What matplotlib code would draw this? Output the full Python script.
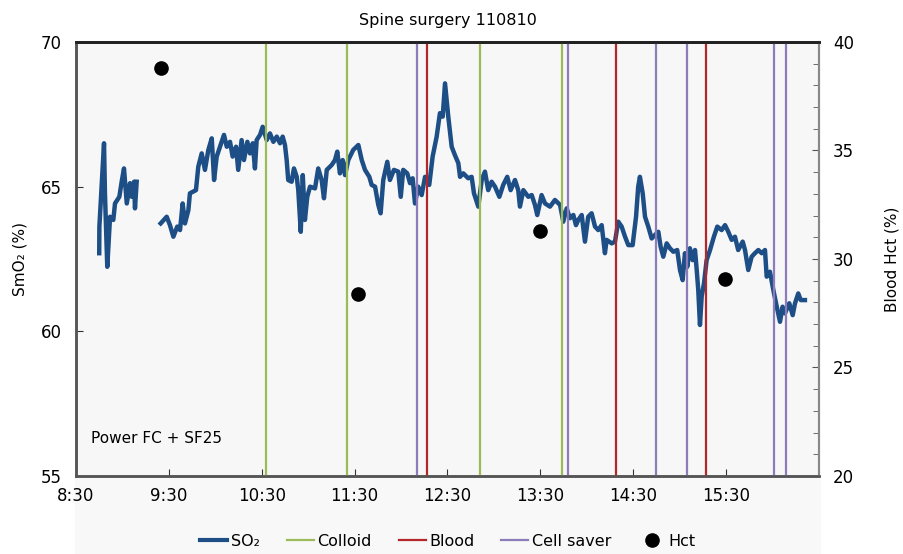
import matplotlib
matplotlib.use("Agg")
import matplotlib.pyplot as plt
from matplotlib.lines import Line2D
from matplotlib.patches import Rectangle
import numpy as np

# SmO2 trace, minutes after 8:30 and value (%), two recorded pieces
t1 = [15.0, 15.1, 18.1, 18.7, 20.2, 22.0, 24.1, 25.2, 28.0, 29.5,
      31.0, 32.8, 34.9, 36.0, 37.5, 38.1, 39.2]
v1 = [62.70, 63.62, 66.50, 64.78, 62.23, 63.96, 63.85, 64.42, 64.65, 65.17,
      65.63, 64.42, 65.12, 64.65, 65.17, 64.25, 65.17]

t2 = [54.7, 58.6, 60.7, 62.9, 65.4, 67.2, 68.9, 70.4, 72.6, 73.6,
      77.5, 79.0, 81.2, 83.3, 85.5, 87.7, 89.2, 90.9, 93.0, 95.6,
      97.4, 99.5, 101.2, 103.4, 104.8, 107.0, 108.5, 110.7, 112.4, 114.2,
      115.6, 116.7, 118.9, 120.6, 123.2, 125.3, 127.5, 129.7, 131.8, 133.5,
      135.0, 136.1, 137.1, 139.3, 140.8, 142.6, 143.6, 145.2, 146.5, 147.9,
      149.4, 151.2, 154.4, 156.5, 158.7, 160.2, 162.0, 165.2, 167.3, 168.8,
      170.5, 172.3, 173.8, 175.9, 179.1, 182.4, 184.6, 186.7, 189.5, 191.0,
      193.2, 195.3, 196.8, 198.5, 201.1, 202.8, 205.4, 208.2, 209.8, 211.4,
      214.0, 215.8, 217.5, 219.0, 221.1, 223.3, 225.5, 228.2, 230.4, 233.0,
      235.1, 236.9, 238.4, 240.5, 242.7, 244.8, 247.0, 248.1, 250.2, 253.4,
      255.6, 257.1, 259.9, 262.1, 264.2, 266.3, 268.5, 270.7, 273.5, 276.0,
      278.6, 280.8, 283.6, 285.7, 286.8, 289.0, 292.2, 294.4, 296.5, 298.0,
      300.8, 303.0, 306.2, 309.4, 312.7, 314.8, 317.0, 319.1, 321.3, 323.0,
      324.5, 326.7, 328.8, 330.9, 333.1, 335.3, 337.4, 339.6, 341.7, 342.8,
      346.1, 348.2, 350.3, 352.5, 354.7, 356.8, 359.6, 361.8, 363.2, 364.3,
      366.1, 367.6, 369.7, 371.9, 374.0, 376.2, 377.7, 379.4, 381.6, 383.7,
      385.9, 388.4, 390.2, 391.9, 393.4, 394.9, 396.6, 398.4, 399.9, 401.0,
      402.0, 403.1, 404.2, 405.7, 407.4, 409.6, 412.1, 414.3, 417.1, 419.3,
      421.4, 423.6, 425.7, 427.8, 430.7, 432.2, 434.3, 436.5, 438.6, 440.8,
      443.0, 445.1, 446.2, 448.3, 450.5, 452.7, 454.8, 456.5, 458.0, 460.8,
      463.0, 464.5, 466.6, 468.2, 470.9]
v2 = [63.73, 63.96, 63.67, 63.27, 63.62, 63.50, 64.42, 63.73, 64.19, 64.77,
      64.88, 65.69, 66.15, 65.58, 66.27, 66.67, 65.23, 66.04, 66.38, 66.79,
      66.38, 66.55, 66.04, 66.38, 65.58, 66.61, 65.92, 66.55, 66.15, 66.50,
      65.63, 66.61, 66.79, 67.07, 66.61, 66.84, 66.55, 66.73, 66.50, 66.73,
      66.44, 65.92, 65.23, 65.17, 65.63, 65.34, 64.88, 63.44, 65.40, 63.85,
      64.65, 65.00, 64.94, 65.63, 65.23, 64.60, 65.58, 65.75, 65.92, 66.21,
      65.46, 65.92, 65.40, 65.92, 66.27, 66.44, 65.92, 65.58, 65.34, 65.06,
      65.00, 64.37, 64.08, 65.23, 65.86, 65.23, 65.58, 65.52, 64.65, 65.58,
      65.46, 65.12, 65.29, 64.42, 65.00, 64.71, 65.34, 65.06, 66.04, 66.73,
      67.54, 67.42, 68.57, 67.42, 66.38, 66.09, 65.81, 65.34, 65.46, 65.29,
      65.34, 64.77, 64.31, 65.23, 65.52, 64.88, 65.17, 65.00, 64.65, 65.06,
      65.34, 64.88, 65.23, 64.88, 64.31, 64.88, 64.65, 64.71, 64.37, 64.02,
      64.71, 64.42, 64.31, 64.54, 64.37, 63.79, 64.25, 63.91, 64.02, 63.67,
      63.85, 64.02, 63.10, 63.96, 64.08, 63.62, 63.50, 63.67, 62.70, 63.16,
      63.04, 63.10, 63.79, 63.62, 63.27, 62.98, 62.98, 63.96, 65.00, 65.34,
      64.77, 63.96, 63.62, 63.21, 63.33, 63.44, 62.92, 62.58, 63.04, 62.87,
      62.75, 62.81, 62.12, 61.77, 62.70, 62.23, 62.87, 62.46, 62.81, 62.12,
      61.43, 60.22, 61.20, 61.66, 62.46, 62.81, 63.27, 63.62, 63.50, 63.67,
      63.44, 63.16, 63.27, 62.81, 63.10, 62.81, 62.12, 62.58, 62.70, 62.81,
      62.70, 62.81, 61.89, 62.06, 61.43, 60.85, 60.33, 60.85, 60.62, 60.97,
      60.56, 60.97, 61.31, 61.08, 61.08]

# event times (clock)
colloid = ["10:33", "11:25", "12:51", "13:44"]
blood = ["12:17", "14:19", "15:17"]
cell_saver = ["12:10", "13:48", "14:45", "15:05", "16:01", "16:09"]

# blood haematocrit samples
hct_time = ["9:25", "11:32", "13:30", "15:29"]
hct_val = [38.8, 28.4, 31.3, 29.1]

tick_labels = ["8:30", "9:30", "10:30", "11:30", "12:30", "13:30", "14:30", "15:30"]


def clock(s):
    h, m = s.split(":")
    return int(h) + int(m) / 60


def from_start(mins):
    return 8.5 + np.array(mins) / 60


c_so2 = "#1d4e86"
c_colloid = "#9bbb59"
c_blood = "#b3262a"
c_cell = "#8d7cba"

fig = plt.figure(figsize=(9.04, 5.54), dpi=100)
fig.patches.append(Rectangle((75 / 904, 0), 745 / 904, 78 / 554,
                             transform=fig.transFigure, color="#f8f8f8", zorder=-1))
ax = fig.add_axes([76 / 904, 78 / 554, 743 / 904, 434 / 554])
ax.set_facecolor("#f7f7f7")
ax2 = ax.twinx()

ax.plot(from_start(t1), v1, color=c_so2, lw=3.2, solid_joinstyle="round", zorder=2)
ax.plot(from_start(t2), v2, color=c_so2, lw=3.2, solid_joinstyle="round", zorder=2)

for s in colloid:
    ax.axvline(clock(s), color=c_colloid, lw=1.6, zorder=3)
for s in blood:
    ax.axvline(clock(s), color=c_blood, lw=1.6, zorder=3)
for s in cell_saver:
    ax.axvline(clock(s), color=c_cell, lw=1.6, zorder=3)

ax2.plot([clock(s) for s in hct_time], hct_val, "o", color="black", ms=9.5, zorder=4)

ax.set_xlim(8.5, 16.5)
ax.set_ylim(55, 70)
ax2.set_ylim(20, 40)
ax.set_xticks([clock(s) for s in tick_labels])
ax.set_xticklabels(tick_labels)
ax.set_yticks([55, 60, 65, 70])
ax2.set_yticks([20, 25, 30, 35, 40])
ax2.set_yticks(np.arange(20, 41, 1), minor=True)

ax.tick_params(axis="x", direction="in", length=5, pad=8, labelsize=12, color="#333333")
ax.tick_params(axis="y", direction="in", length=5, pad=10, labelsize=12, color="#333333")
ax2.tick_params(axis="y", which="major", direction="in", length=5, pad=10, labelsize=12, color="#555555")
ax2.tick_params(axis="y", which="minor", direction="in", length=4, color="#555555")

for a in (ax, ax2):
    a.spines["top"].set_color("#222222")
    a.spines["top"].set_linewidth(2)
    a.spines["left"].set_color("#555555")
    a.spines["left"].set_linewidth(1.8)
    a.spines["bottom"].set_color("#555555")
    a.spines["bottom"].set_linewidth(1.8)
    a.spines["right"].set_color("#888888")
    a.spines["right"].set_linewidth(1.5)

ax.set_ylabel("SmO₂ (%)", fontsize=11, labelpad=10)
ax2.set_ylabel("Blood Hct (%)", fontsize=11, labelpad=22)
ax.set_title("Spine surgery 110810", fontsize=11.5, pad=12)

ax.text(0.02, 0.075, "Power FC + SF25", transform=ax.transAxes, fontsize=11)

handles = [
    Line2D([], [], color=c_so2, lw=3),
    Line2D([], [], color=c_colloid, lw=1.6),
    Line2D([], [], color=c_blood, lw=1.6),
    Line2D([], [], color=c_cell, lw=1.6),
    Line2D([], [], color="black", marker="o", ls="none", ms=9.5),
]
fig.legend(handles, ["SO₂", "Colloid", "Blood", "Cell saver", "Hct"],
           loc="center", bbox_to_anchor=(448 / 904, 1 - 541 / 554), ncol=5,
           frameon=False, fontsize=11.5, handlelength=1.7, handletextpad=0.2,
           columnspacing=1.7)

fig.savefig("out.png", dpi=100)
